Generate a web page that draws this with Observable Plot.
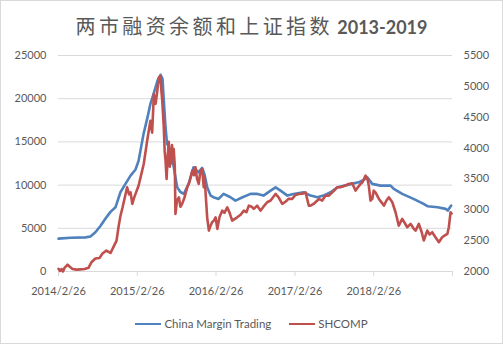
<!DOCTYPE html>
<html>
<head>
<meta charset="utf-8">
<script src="https://cdn.jsdelivr.net/npm/d3@7"></script>
<script src="https://cdn.jsdelivr.net/npm/@observablehq/plot@0.6"></script>
<style>
  html, body { margin: 0; padding: 0; background: #fff; }
  #wrap { position: relative; width: 503px; height: 344px; background: #fff; overflow: hidden; }
  #frame { position: absolute; left: 0; top: 0; width: 503px; height: 344px; box-sizing: border-box; border: 1px solid #d9d9d9; pointer-events: none; }
  #title { position: absolute; left: 0; top: 14px; width: 503px; text-align: center; line-height: 24px; white-space: nowrap; color: #595959; }
  #title .cjk { font-family: "Noto Sans CJK SC", sans-serif; font-size: 20px; letter-spacing: 3.4px; }
  #title .num { font-family: Lato, sans-serif; font-size: 18px; font-weight: bold; }
  #plot { position: absolute; left: 0; top: 44px; }
  #legend { position: absolute; left: 0; top: 316px; width: 503px; text-align: center; font-family: Lato, sans-serif; font-size: 11.5px; color: #595959; line-height: 16px; white-space: nowrap; }
  #legend .item { display: inline-block; margin: 0 9px; }
  #legend .sw { display: inline-block; width: 26px; height: 2px; vertical-align: middle; margin-right: 3px; position: relative; top: -1px; }
</style>
</head>
<body>
<div id="wrap">
  <div id="title"><span class="cjk">两市融资余额和上证指数</span><span class="num"> 2013-2019</span></div>
  <div id="plot"></div>
  <div id="legend"></div>
  <div id="frame"></div>
</div>
<script>
// ---- Data ----
const seriesNames = ["China Margin Trading", "SHCOMP"];
const seriesColors = ["#4F81BD", "#C0504D"];

const marginDates = [
  "2014-02-26","2014-04-23","2014-07-01","2014-07-24","2014-08-16","2014-09-09","2014-10-02","2014-10-25",
  "2014-11-17","2014-12-10","2015-01-03","2015-01-26","2015-02-18","2015-03-04","2015-03-27","2015-04-15",
  "2015-04-28","2015-05-12","2015-05-31","2015-06-14","2015-06-23","2015-06-30","2015-07-07","2015-07-14",
  "2015-07-25","2015-08-08","2015-08-30","2015-09-14","2015-09-30","2015-10-22","2015-11-14","2015-12-07",
  "2015-12-24","2016-01-04","2016-01-16","2016-02-01","2016-02-14","2016-03-09","2016-04-01","2016-05-03",
  "2016-05-26","2016-06-28","2016-08-04","2016-09-05","2016-10-03","2016-11-05","2016-11-28","2016-12-21",
  "2017-01-22","2017-02-19","2017-04-07","2017-05-09","2017-06-10","2017-07-08","2017-08-10","2017-09-11",
  "2017-10-14","2017-11-15","2017-12-18","2018-01-10","2018-01-27","2018-02-19","2018-03-29","2018-05-15",
  "2018-05-30","2018-07-08","2018-08-29","2018-10-15","2018-11-02","2018-12-19","2019-01-25","2019-02-04",
  "2019-02-20"
];
const marginValues = [
  3800,3900,3950,4050,4540,5300,6130,6900,
  7430,9170,10170,11100,11800,12800,15900,17900,
  19400,20500,22100,22770,22300,19400,16700,14800,
  14300,13000,9750,9200,8980,10140,12070,11480,
  11990,11200,9745,8785,8600,8400,8980,8590,
  8210,8590,8980,8980,8785,9360,9745,9360,
  8785,8980,9170,8785,8590,8785,9170,9745,
  9940,10140,10320,10600,10900,10140,9940,9940,
  9560,8980,8400,7830,7560,7440,7250,7050,
  7630
];

const shcompDates = [
  "2014-02-26","2014-03-05","2014-03-12","2014-03-19","2014-03-26","2014-04-09","2014-04-18","2014-05-02","2014-05-20","2014-06-08",
  "2014-06-27","2014-07-15","2014-07-29","2014-08-16","2014-09-04","2014-09-18","2014-10-06","2014-10-25",
  "2014-11-08","2014-11-22","2014-12-01","2014-12-10","2014-12-20","2014-12-29","2015-01-10","2015-01-19",
  "2015-01-26","2015-02-03","2015-02-09","2015-02-18","2015-03-04","2015-03-15","2015-03-28","2015-04-13",
  "2015-04-28","2015-05-06","2015-05-14","2015-05-22","2015-05-29","2015-06-06","2015-06-14","2015-06-18","2015-06-22","2015-06-29",
  "2015-07-03","2015-07-07","2015-07-12","2015-07-16","2015-07-22","2015-07-27","2015-07-30","2015-08-03","2015-08-06","2015-08-10","2015-08-14","2015-08-19","2015-08-22",
  "2015-08-29","2015-09-07","2015-09-14","2015-09-22","2015-10-03","2015-10-16","2015-10-26","2015-11-08",
  "2015-11-16","2015-11-23","2015-11-30","2015-12-08","2015-12-16","2015-12-24","2015-12-31","2016-01-04","2016-01-08",
  "2016-01-16","2016-01-24","2016-01-29","2016-02-08","2016-02-16","2016-02-24","2016-03-03","2016-03-13",
  "2016-03-26","2016-04-05","2016-04-18","2016-04-29","2016-05-11","2016-05-22","2016-06-03","2016-06-19",
  "2016-07-04","2016-07-16","2016-07-27","2016-08-09","2016-08-19","2016-09-04","2016-09-19","2016-10-03",
  "2016-10-20","2016-11-05","2016-11-28","2016-12-12","2016-12-29","2017-01-13","2017-01-27","2017-02-13",
  "2017-02-28","2017-03-16","2017-04-01","2017-04-16","2017-05-01","2017-05-09","2017-05-23","2017-06-17",
  "2017-07-02","2017-07-18","2017-08-02","2017-08-18","2017-09-10","2017-09-25","2017-10-18","2017-11-01",
  "2017-11-18","2017-12-04","2017-12-18","2017-12-27","2018-01-05","2018-01-19","2018-01-28","2018-02-03",
  "2018-02-11","2018-02-19","2018-02-26","2018-03-06","2018-03-22","2018-04-03","2018-04-14","2018-04-26",
  "2018-05-07","2018-05-23","2018-06-07","2018-06-22","2018-07-08","2018-07-19","2018-07-31","2018-08-16",
  "2018-08-29","2018-09-08","2018-09-23","2018-10-06","2018-10-16","2018-11-01","2018-11-12","2018-11-24",
  "2018-12-09","2018-12-25","2019-01-09","2019-01-20","2019-02-02","2019-02-09","2019-02-17","2019-02-22"
];
const shcompValues = [
  2044,2010,2040,2000,2060,2110,2080,2040,2030,2035,
  2040,2060,2150,2210,2220,2290,2340,2300,
  2400,2500,2717,2900,3040,3180,3365,3250,
  3283,3095,3170,3257,3390,3550,3742,4120,
  4443,4250,4874,4717,4900,5143,5166,4920,4767,4340,
  3950,3800,3500,3800,4100,3700,3960,3750,4050,3850,3985,3700,2933,
  3150,3202,3050,3095,3200,3365,3450,3634,
  3560,3688,3500,3420,3634,3660,3365,3540,3311,
  2878,2663,2720,2798,2825,2878,2690,2880,
  2987,2950,3040,2950,2825,2850,2878,2920,
  2987,2960,3068,3050,3014,3068,2987,3050,
  3122,3150,3257,3200,3095,3130,3176,3176,
  3240,3257,3260,3283,3068,3068,3095,3176,
  3149,3230,3230,3283,3365,3365,3392,3419,
  3430,3311,3380,3419,3445,3553,3500,3392,
  3149,3176,3311,3283,3176,3120,3068,3150,
  3203,3122,2960,2744,2852,2790,2717,2771,
  2700,2663,2771,2640,2502,2663,2600,2636,
  2555,2474,2555,2580,2609,2717,2960,2940
];

const leftTicks = [0, 5000, 10000, 15000, 20000, 25000];
const rightTicks = [2000, 2500, 3000, 3500, 4000, 4500, 5000, 5500];
const xTickDates = ["2014-02-26","2015-02-26","2016-02-26","2017-02-26","2018-02-26","2019-02-26"];
const xTickLabels = ["2014/2/26","2015/2/26","2016/2/26","2017/2/26","2018/2/26"];

// ---- Build tables ----
const leftMax = 25000, rightMin = 2000, rightMax = 5500;
const toLeft = v => (v - rightMin) / (rightMax - rightMin) * leftMax;
const fromLeft = y => Math.round(y / leftMax * (rightMax - rightMin) + rightMin);

const margin = marginDates.map((d, i) => ({date: new Date(d), value: marginValues[i]}));
const shcomp = shcompDates.map((d, i) => ({date: new Date(d), value: shcompValues[i]}));
const xTicks = xTickDates.map(d => new Date(d));
const labelMap = new Map(xTicks.map((d, i) => [+d, xTickLabels[i] ?? ""]));

const chart = Plot.plot({
  width: 503,
  height: 260,
  marginLeft: 58,
  marginRight: 51,
  marginTop: 11,
  marginBottom: 33,
  style: {fontFamily: "Lato, sans-serif", fontSize: "11px", color: "#595959", background: "transparent"},
  x: {type: "utc", domain: [xTicks[0], xTicks[xTicks.length - 1]]},
  y: {domain: [0, leftMax]},
  marks: [
    Plot.gridY(leftTicks, {stroke: "#d9d9d9", strokeOpacity: 1}),
    Plot.axisY(leftTicks, {anchor: "left", tickSize: 0, tickPadding: 12, fill: "#595959", tickFormat: d => String(d), label: null}),
    Plot.axisY(rightTicks.map(toLeft), {anchor: "right", tickSize: 0, tickPadding: 11, fill: "#595959", tickFormat: d => String(fromLeft(d)), label: null}),
    Plot.axisX(xTicks, {anchor: "bottom", tickSize: 5, tickPadding: 11, stroke: "#d9d9d9", fill: "#595959", tickFormat: d => labelMap.get(+d), label: null}),
    Plot.line(margin, {x: "date", y: "value", stroke: seriesColors[0], strokeWidth: 2.6, strokeLinejoin: "round"}),
    Plot.line(shcomp, {x: "date", y: d => toLeft(d.value), stroke: seriesColors[1], strokeWidth: 2.6, strokeLinejoin: "round"})
  ]
});
document.getElementById("plot").appendChild(chart);

const legend = document.getElementById("legend");
seriesNames.forEach((name, i) => {
  const item = document.createElement("span");
  item.className = "item";
  const sw = document.createElement("span");
  sw.className = "sw";
  sw.style.background = seriesColors[i];
  item.appendChild(sw);
  item.appendChild(document.createTextNode(name));
  legend.appendChild(item);
});
</script>
</body>
</html>
